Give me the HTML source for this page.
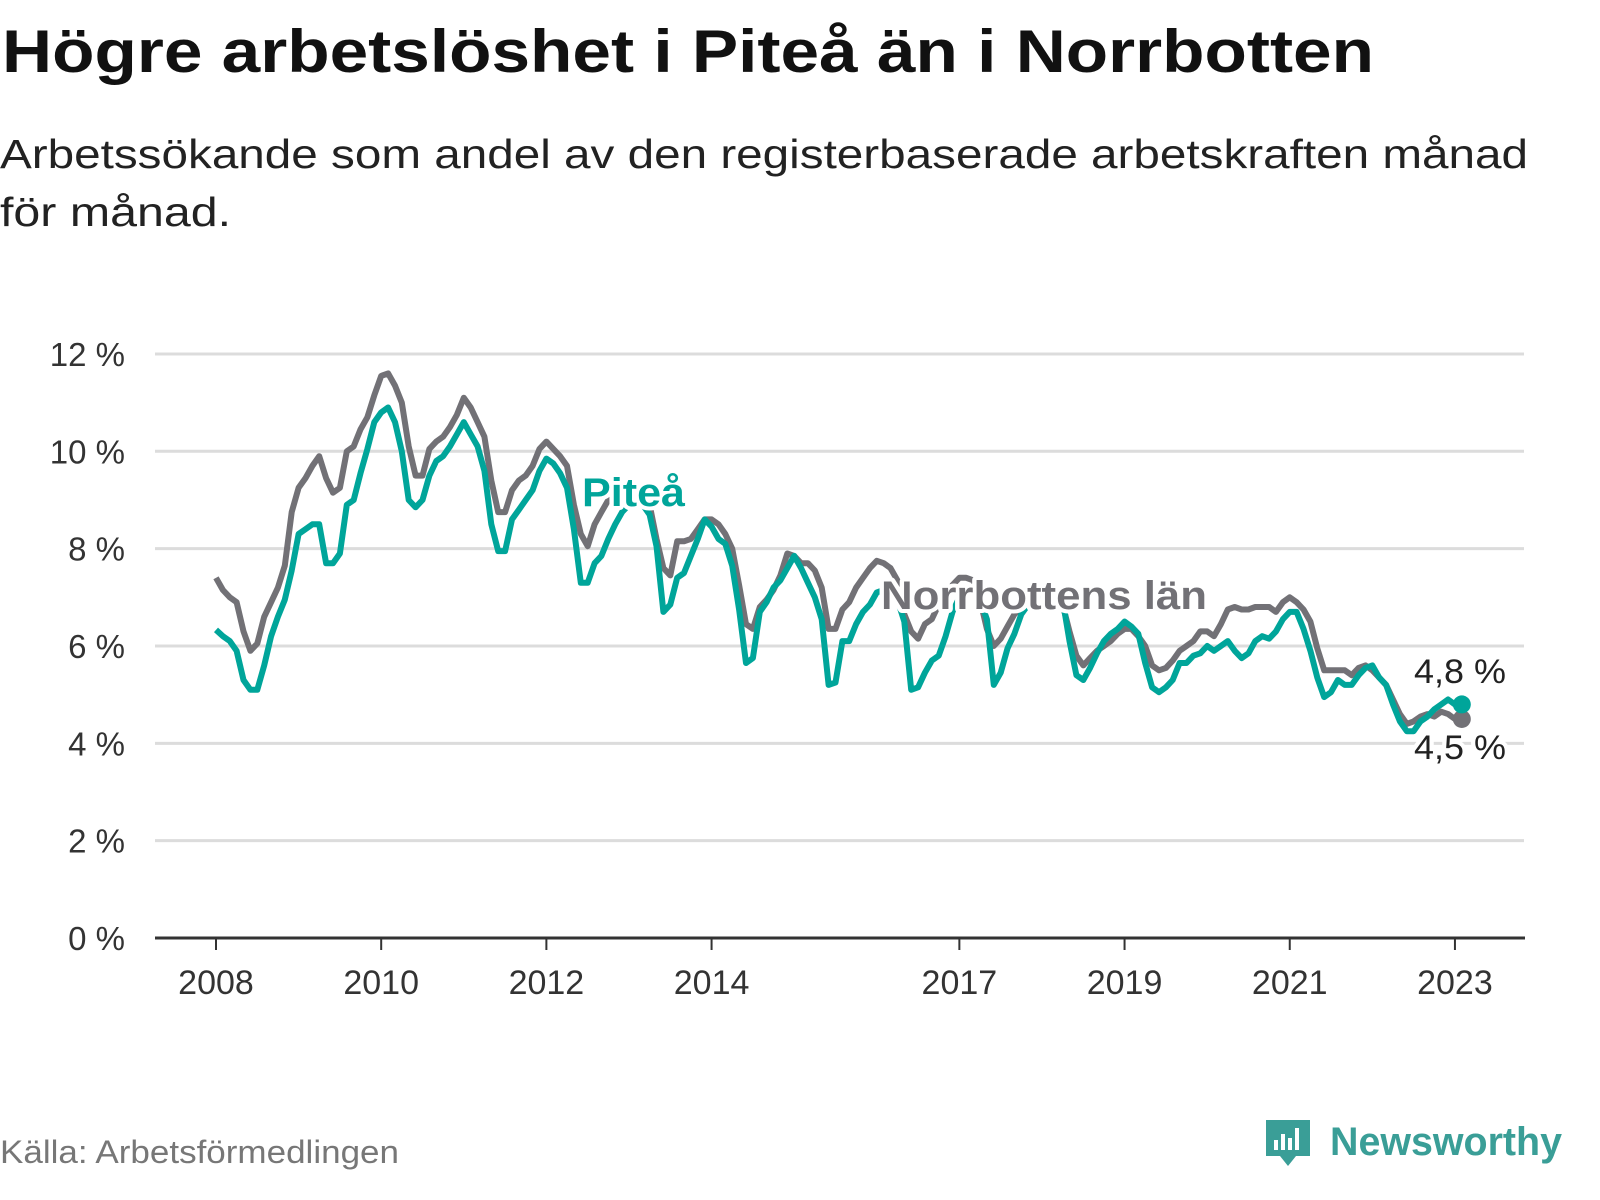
<!DOCTYPE html>
<html><head><meta charset="utf-8"><style>
html,body{margin:0;padding:0;background:#fff;width:1600px;height:1200px;overflow:hidden;font-family:"Liberation Sans","DejaVu Sans",sans-serif;}
</style></head><body>
<svg id="chart" width="1600" height="1200" xmlns="http://www.w3.org/2000/svg" font-family="Liberation Sans, DejaVu Sans, sans-serif">
<text x="2" y="72" font-size="60" font-weight="bold" fill="#111" textLength="1372" lengthAdjust="spacingAndGlyphs">Högre arbetslöshet i Piteå än i Norrbotten</text>
<text x="0" y="168" font-size="41" fill="#222" textLength="1528" lengthAdjust="spacingAndGlyphs">Arbetssökande som andel av den registerbaserade arbetskraften månad</text>
<text x="0" y="226" font-size="41" fill="#222" textLength="231" lengthAdjust="spacingAndGlyphs">för månad.</text>
<g id="grid"></g><g id="xaxis"></g><g id="lines"></g><g id="labels"></g>
<text x="0" y="1163" font-size="32" fill="#777" textLength="399" lengthAdjust="spacingAndGlyphs">Källa: Arbetsförmedlingen</text>
<g>
<path d="M1266 1120 h44 v36 h-14 l-8 10 l-8 -10 h-14 z" fill="#3a9e97"/>
<rect x="1274" y="1140" width="4" height="10" fill="#fff"/><rect x="1281" y="1134" width="4" height="16" fill="#fff"/><rect x="1288" y="1138" width="4" height="12" fill="#fff"/><rect x="1295" y="1128" width="4" height="22" fill="#fff"/>
<text x="1330" y="1155" font-size="40" font-weight="bold" fill="#3a9e97" textLength="232" lengthAdjust="spacingAndGlyphs">Newsworthy</text>
</g>
</svg>
<script>
const yTicks=[0,2,4,6,8,10,12];
const xTickYears=[2008,2010,2012,2014,2017,2019,2021,2023];
const startYear=2008;
const norrbotten=[7.4,7.15,7.0,6.9,6.3,5.9,6.05,6.6,6.9,7.2,7.65,8.75,9.25,9.45,9.7,9.9,9.45,9.15,9.25,10.0,10.1,10.45,10.7,11.15,11.55,11.6,11.35,11.0,10.1,9.5,9.5,10.05,10.2,10.3,10.5,10.75,11.1,10.9,10.6,10.3,9.4,8.75,8.75,9.2,9.4,9.5,9.7,10.05,10.2,10.05,9.9,9.7,8.9,8.3,8.05,8.5,8.75,9.0,9.1,9.2,9.2,9.15,9.1,8.9,8.2,7.6,7.45,8.15,8.15,8.2,8.4,8.6,8.6,8.5,8.3,8.0,7.25,6.45,6.35,6.8,6.95,7.15,7.45,7.9,7.85,7.7,7.7,7.55,7.2,6.35,6.35,6.75,6.9,7.2,7.4,7.6,7.75,7.7,7.6,7.35,6.65,6.3,6.15,6.45,6.55,6.85,7.05,7.25,7.4,7.4,7.35,6.95,6.35,6.0,6.15,6.4,6.65,6.8,6.9,7.0,7.05,7.05,7.0,6.85,6.3,5.8,5.6,5.75,5.9,6.0,6.1,6.25,6.35,6.35,6.2,6.0,5.6,5.5,5.55,5.7,5.9,6.0,6.1,6.3,6.3,6.2,6.45,6.75,6.8,6.75,6.75,6.8,6.8,6.8,6.7,6.9,7.0,6.9,6.75,6.5,5.95,5.5,5.5,5.5,5.5,5.4,5.55,5.6,5.5,5.35,5.2,4.9,4.6,4.4,4.45,4.55,4.6,4.55,4.65,4.6,4.5,4.5];
const pitea=[6.33,6.2,6.1,5.9,5.3,5.1,5.1,5.6,6.2,6.6,6.95,7.55,8.3,8.4,8.5,8.5,7.7,7.7,7.9,8.9,9.0,9.55,10.05,10.6,10.8,10.9,10.6,10.0,9.0,8.85,9.0,9.5,9.8,9.9,10.1,10.35,10.6,10.35,10.1,9.6,8.5,7.95,7.95,8.6,8.8,9.0,9.2,9.6,9.85,9.75,9.55,9.25,8.4,7.3,7.3,7.7,7.85,8.2,8.5,8.75,8.9,8.9,8.9,8.7,8.05,6.7,6.85,7.4,7.5,7.85,8.2,8.6,8.45,8.2,8.1,7.65,6.75,5.65,5.75,6.7,6.9,7.2,7.35,7.6,7.85,7.6,7.3,7.0,6.55,5.2,5.25,6.1,6.1,6.45,6.7,6.85,7.1,7.15,7.1,6.95,6.5,5.1,5.15,5.45,5.7,5.8,6.2,6.7,7.0,7.15,7.1,6.95,6.55,5.2,5.45,5.95,6.25,6.65,6.85,7.0,7.05,7.05,7.0,6.95,6.1,5.4,5.3,5.55,5.85,6.1,6.25,6.35,6.5,6.4,6.25,5.65,5.15,5.05,5.15,5.3,5.65,5.65,5.8,5.85,6.0,5.9,6.0,6.1,5.9,5.75,5.85,6.1,6.2,6.15,6.3,6.55,6.7,6.7,6.35,5.9,5.35,4.95,5.05,5.3,5.2,5.2,5.4,5.55,5.6,5.35,5.2,4.8,4.45,4.25,4.25,4.45,4.55,4.7,4.8,4.9,4.8,4.8];
const NS="http://www.w3.org/2000/svg";
const x0=216,pxPerMonth=6.883,yBase=938,pxPerUnit=48.67;
function xScale(m){return x0+m*pxPerMonth;}
function yScale(v){return yBase-v*pxPerUnit;}
function mk(tag,attrs,parent){const e=document.createElementNS(NS,tag);for(const k in attrs)e.setAttribute(k,attrs[k]);parent.appendChild(e);return e;}
const grid=document.getElementById('grid');
yTicks.forEach(t=>{
  if(t>0){const l=mk('line',{x1:155,x2:1524,y1:yScale(t),y2:yScale(t),stroke:'#dcdcdc','stroke-width':3},grid);
  
  }
  const tx=mk('text',{x:125,y:yScale(t)+12,'text-anchor':'end','font-size':33,fill:'#333'},grid);
  tx.textContent=t+' %';
  
  
});
const xa=document.getElementById('xaxis');
const ax=mk('line',{x1:155,x2:1525,y1:yBase,y2:yBase,stroke:'#333','stroke-width':3},xa);


xTickYears.forEach(yr=>{
  const x=xScale((yr-startYear)*12);
  const tk=mk('line',{x1:x,x2:x,y1:yBase,y2:yBase+12,stroke:'#333','stroke-width':2},xa);
  
  
  const tx=mk('text',{x:x,y:yBase+56,'text-anchor':'middle','font-size':34,fill:'#333'},xa);
  tx.textContent=yr;
  
  
});
const lines=document.getElementById('lines');
function drawLine(arr,color,name){
  const d=arr.map((v,i)=>(i?'L':'M')+xScale(i).toFixed(1)+' '+yScale(v).toFixed(1)).join(' ');
  const p=mk('path',{d:d,fill:'none',stroke:color,'stroke-width':6,'stroke-linejoin':'round'},lines);
  
  
  const n=arr.length-1;
  const c=mk('circle',{cx:xScale(n),cy:yScale(arr[n]),r:9,fill:color},lines);
  
  
}
drawLine(norrbotten,'#727176','norrbotten-line');
drawLine(pitea,'#00a59a','pitea-line');
const lb=document.getElementById('labels');
function label(txt,x,y,color,bold,name,len){
  const t=mk('text',{x:x,y:y,'font-size':bold?40:34,'font-weight':bold?'bold':'normal',fill:color,stroke:'#fff','stroke-width':8,'paint-order':'stroke','stroke-linejoin':'round',textLength:len,lengthAdjust:'spacingAndGlyphs'},lb);
  t.textContent=txt;
  
  
}
label('Piteå',582,506,'#00a59a',true,'pitea-series-label',103);
label('Norrbottens län',881,609,'#727176',true,'norrbotten-series-label',326);
const pl=pitea[pitea.length-1],nl=norrbotten[norrbotten.length-1];
label(pl.toFixed(1).replace('.',',')+' %',1414,683,'#222',false,'pitea-end-value',92);
label(nl.toFixed(1).replace('.',',')+' %',1414,759,'#222',false,'norrbotten-end-value',92);
</script>
</body></html>
